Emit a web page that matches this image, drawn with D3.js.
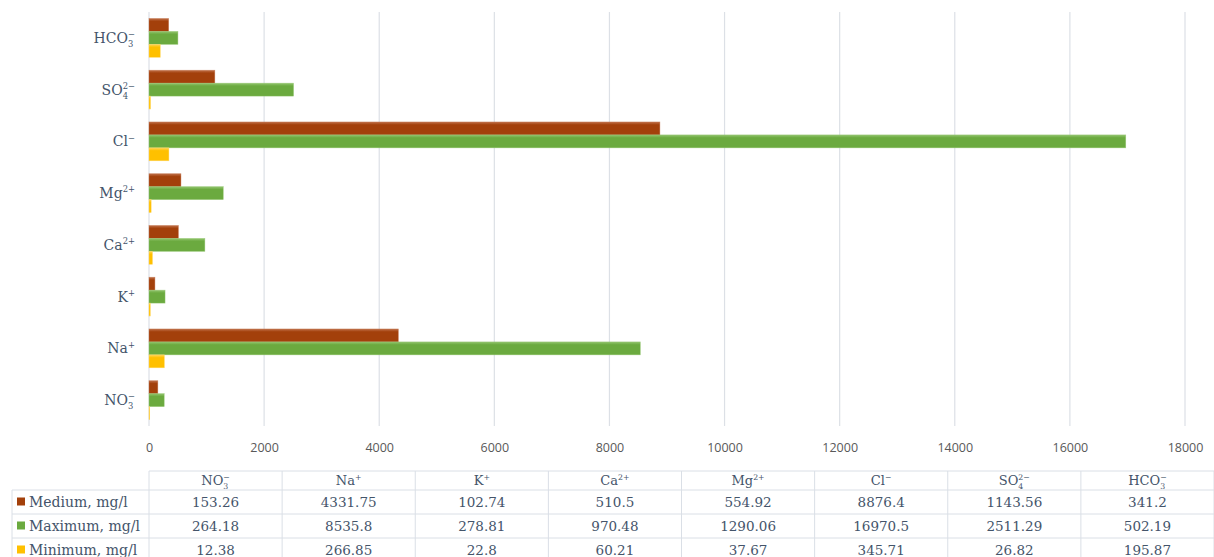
<!DOCTYPE html>
<html>
<head>
<meta charset="utf-8">
<script src="https://cdn.jsdelivr.net/npm/d3@7"></script>
<style>
  html, body { margin: 0; padding: 0; background: #ffffff; }
  svg { display: block; }
</style>
</head>
<body>
<svg id="chart" width="1214" height="557"></svg>
<script>
// ---- data ----
const categories = ["NO3-", "Na+", "K+", "Ca2+", "Mg2+", "Cl-", "SO42-", "HCO3-"];
const categoryLabels = [
  {base: "NO", sub: "3", sup: "\u2212"},
  {base: "Na", sup: "+"},
  {base: "K", sup: "+"},
  {base: "Ca", sup: "2+"},
  {base: "Mg", sup: "2+"},
  {base: "Cl", sup: "\u2212"},
  {base: "SO", sub: "4", sup: "2\u2212"},
  {base: "HCO", sub: "3", sup: "\u2212"}
];
const seriesNames = ["Medium, mg/l", "Maximum, mg/l", "Minimum, mg/l"];
const mediumValues  = [153.26, 4331.75, 102.74, 510.5, 554.92, 8876.4, 1143.56, 341.2];
const maximumValues = [264.18, 8535.8, 278.81, 970.48, 1290.06, 16970.5, 2511.29, 502.19];
const minimumValues = [12.38, 266.85, 22.8, 60.21, 37.67, 345.71, 26.82, 195.87];
const mediumText  = ["153.26", "4331.75", "102.74", "510.5", "554.92", "8876.4", "1143.56", "341.2"];
const maximumText = ["264.18", "8535.8", "278.81", "970.48", "1290.06", "16970.5", "2511.29", "502.19"];
const minimumText = ["12.38", "266.85", "22.8", "60.21", "37.67", "345.71", "26.82", "195.87"];
const xTicks = [0, 2000, 4000, 6000, 8000, 10000, 12000, 14000, 16000, 18000];

const seriesValues = [mediumValues, maximumValues, minimumValues];
const seriesText = [mediumText, maximumText, minimumText];
const colors = ["#A3400B", "#6BAA3F", "#FFC000"];
const lightColors = ["#C0714A", "#93C56F", "#FFD65C"];

// ---- layout ----
const svg = d3.select("#chart");
const plotLeft = 149, plotRight = 1185, plotTop = 12, plotBottom = 426;
const labelColor = "#44546A";
const gridColor = "#DCE0E6";
const serif = "'DejaVu Serif', Georgia, serif";

const x = d3.scaleLinear().domain([0, 18000]).range([plotLeft, plotRight]);
const y = d3.scaleBand().domain(categories.slice().reverse())
  .range([plotTop, plotBottom]).paddingInner(0.25).paddingOuter(0.125);
const ySub = d3.scaleBand().domain(d3.range(seriesNames.length)).range([0, y.bandwidth()]);

// gradients
const defs = svg.append("defs");
colors.forEach((c, i) => {
  const g = defs.append("linearGradient").attr("id", "g" + i)
    .attr("x1", 0).attr("y1", 0).attr("x2", 0).attr("y2", 1);
  g.append("stop").attr("offset", "0%").attr("stop-color", lightColors[i]);
  g.append("stop").attr("offset", "22%").attr("stop-color", c);
  g.append("stop").attr("offset", "100%").attr("stop-color", c);
});

// gridlines
svg.append("g").selectAll("line").data(xTicks).join("line")
  .attr("x1", d => x(d)).attr("x2", d => x(d))
  .attr("y1", plotTop).attr("y2", plotBottom)
  .attr("stroke", gridColor).attr("stroke-width", 1.2);

// axis labels
const xAxis = d3.axisBottom(x).tickValues(xTicks).tickFormat(d3.format("d")).tickSize(0).tickPadding(0);
const axG = svg.append("g").attr("transform", `translate(0, ${plotBottom + 17})`).call(xAxis);
axG.select(".domain").remove();
axG.selectAll("text").attr("fill", "#595959")
  .style("font-family", "'Open Sans', sans-serif").style("font-size", "12.5px");

// bars
const barG = svg.append("g");
seriesValues.forEach((vals, si) => {
  barG.append("g").selectAll("rect").data(categories).join("rect")
    .attr("x", x(0))
    .attr("y", (d) => y(d) + ySub(si))
    .attr("width", (d, i) => x(vals[i]) - x(0))
    .attr("height", ySub.bandwidth())
    .attr("fill", `url(#g${si})`)
    .attr("stroke", lightColors[si]).attr("stroke-width", 0.6).attr("stroke-opacity", 0.7);
});

// chem label helper
function chem(g, spec, fontSize) {
  const t = g.append("text").attr("fill", labelColor)
    .style("font-family", serif).style("font-size", fontSize + "px");
  t.append("tspan").text(spec.base);
  const small = fontSize * 0.6;
  if (spec.sub) {
    const s = t.append("tspan").text(spec.sub).style("font-size", small + "px").attr("dy", fontSize * 0.3);
    const w = s.node().getComputedTextLength();
    if (spec.sup) {
      t.append("tspan").text(spec.sup).style("font-size", small + "px")
        .attr("dx", -w).attr("dy", -fontSize * 0.72);
    }
  } else if (spec.sup) {
    t.append("tspan").text(spec.sup).style("font-size", small + "px").attr("dy", -fontSize * 0.42);
  }
  return t;
}

// category labels
const catG = svg.append("g");
categories.forEach((c, i) => {
  const g = catG.append("g");
  const t = chem(g, categoryLabels[i], 14);
  const bb = t.node().getBBox();
  const cy = y(c) + y.bandwidth() / 2;
  t.attr("x", 0).attr("y", 0);
  g.attr("transform", `translate(${135 - bb.width}, ${cy + 5})`);
});

// ---- data table ----
const tbl = svg.append("g");
const colW = (1214 - plotLeft) / categories.length;
const tableTop = 471, headerH = 19, rowH = 24;
const rowsY = [tableTop, tableTop + headerH, tableTop + headerH + rowH, tableTop + headerH + 2 * rowH, tableTop + headerH + 3 * rowH];
const lineColor = "#DADFE6";
// horizontal lines
tbl.append("line").attr("x1", plotLeft).attr("x2", 1214).attr("y1", rowsY[0]).attr("y2", rowsY[0]).attr("stroke", lineColor);
[1, 2, 3].forEach(r => {
  tbl.append("line").attr("x1", 12).attr("x2", 1214).attr("y1", rowsY[r]).attr("y2", rowsY[r]).attr("stroke", lineColor);
});
// vertical lines
d3.range(categories.length + 1).forEach(k => {
  tbl.append("line").attr("x1", plotLeft + k * colW).attr("x2", plotLeft + k * colW)
    .attr("y1", rowsY[0]).attr("y2", 557).attr("stroke", lineColor);
});
tbl.append("line").attr("x1", 12).attr("x2", 12).attr("y1", rowsY[1]).attr("y2", 557).attr("stroke", lineColor);

// header labels
categories.forEach((c, i) => {
  const g = tbl.append("g");
  const t = chem(g, categoryLabels[i], 13);
  const bb = t.node().getBBox();
  g.attr("transform", `translate(${plotLeft + (i + 0.5) * colW - bb.width / 2}, ${rowsY[0] + 14})`);
});

// rows
seriesNames.forEach((name, si) => {
  const cy = rowsY[si + 1] + rowH / 2;
  tbl.append("rect").attr("x", 17).attr("y", cy - 4.5).attr("width", 8).attr("height", 8).attr("fill", colors[si]);
  tbl.append("text").attr("x", 29).attr("y", cy + 5).text(name)
    .attr("fill", labelColor).style("font-family", serif).style("font-size", "14px");
  seriesText[si].forEach((v, i) => {
    tbl.append("text").attr("x", plotLeft + (i + 0.5) * colW).attr("y", cy + 5)
      .attr("text-anchor", "middle").text(v)
      .attr("fill", labelColor).style("font-family", serif).style("font-size", "13.5px");
  });
});
</script>
</body>
</html>
